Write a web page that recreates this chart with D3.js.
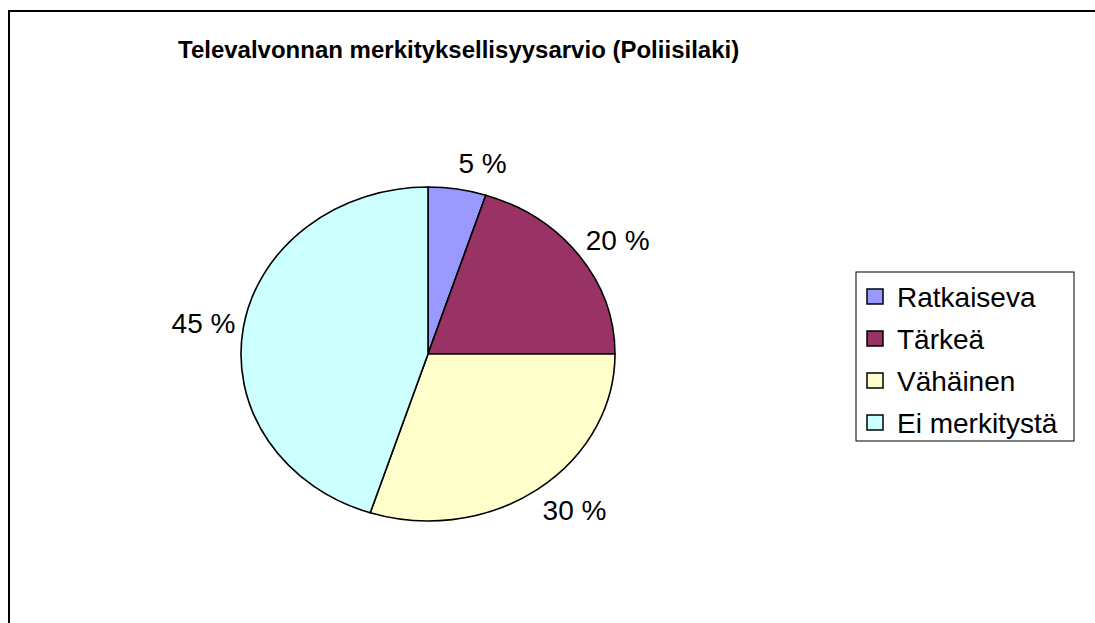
<!DOCTYPE html>
<html>
<meta charset="utf-8">
<title>Televalvonnan merkityksellisyysarvio</title>
<style>
  body { margin: 0; background: #fff; }
  svg { display: block; font-family: "Liberation Sans", Arial, sans-serif; }
  .slice { stroke: #000; stroke-width: 1.6px; vector-effect: non-scaling-stroke; }
  .pct { font-size: 28px; fill: #000; }
  .legend text { font-size: 28px; fill: #000; }
</style>
<body>
<script src="https://d3js.org/d3.v7.min.js"></script>
<script>
var categories = ["Ratkaiseva", "Tärkeä", "Vähäinen", "Ei merkitystä"];
var values = [5, 20, 30, 45];
var labels = ["5 %", "20 %", "30 %", "45 %"];
var colors = ["#9999ff", "#993366", "#ffffcc", "#ccffff"];

var width = 1095, height = 623;
var cx = 428, cy = 354, rx = 187, ry = 167;
var k = ry / rx;

var svg = d3.select("body").append("svg")
    .attr("width", width)
    .attr("height", height);

// chart frame (runs off the right and bottom edge)
svg.append("rect")
    .attr("x", 9).attr("y", 11)
    .attr("width", 1200).attr("height", 700)
    .attr("fill", "#fff")
    .attr("stroke", "#000")
    .attr("stroke-width", 2);

svg.append("text")
    .attr("x", 178).attr("y", 58)
    .style("font-size", "24px")
    .style("font-weight", "bold")
    .text("Televalvonnan merkityksellisyysarvio (Poliisilaki)");

var pie = d3.pie().sort(null).value(function(d) { return d; });
var arcs = pie(values);
var arc = d3.arc().innerRadius(0).outerRadius(rx);

var g = svg.append("g")
    .attr("transform", "translate(" + cx + "," + cy + ") scale(1," + k + ")");

g.selectAll("path")
    .data(arcs)
  .enter().append("path")
    .attr("class", "slice")
    .attr("d", arc)
    .attr("fill", function(d, i) { return colors[i]; });

// percent labels: label box sits just outside the ellipse at the slice's mid angle
var gap = 8;
var lbl = svg.append("g")
    .attr("transform", "translate(" + cx + "," + cy + ")")
  .selectAll("text")
    .data(arcs)
  .enter().append("text")
    .attr("class", "pct")
    .attr("text-anchor", "middle")
    .attr("dominant-baseline", "central")
    .text(function(d, i) { return labels[i]; });

lbl.each(function(d) {
  var a = (d.startAngle + d.endAngle) / 2;
  var b = this.getBBox();
  var s = Math.sin(a), c = Math.cos(a);
  d3.select(this)
    .attr("x", s * (rx + gap) + Math.sign(s) * b.width / 2)
    .attr("y", -c * (ry + gap + 2) - c * 16);
});

// legend
var lg = svg.append("g").attr("class", "legend");
lg.append("rect")
    .attr("x", 856).attr("y", 272)
    .attr("width", 218).attr("height", 169)
    .attr("fill", "#fff")
    .attr("stroke", "#000")
    .attr("stroke-width", 1);

var ly = d3.scalePoint().domain(categories).range([297, 423]);

var item = lg.selectAll("g.item")
    .data(categories)
  .enter().append("g")
    .attr("class", "item")
    .attr("transform", function(d) { return "translate(867," + ly(d) + ")"; });

item.append("rect")
    .attr("x", 0).attr("y", -8)
    .attr("width", 16).attr("height", 15)
    .attr("fill", function(d, i) { return colors[i]; })
    .attr("stroke", "#000")
    .attr("stroke-width", 1.5);

item.append("text")
    .attr("x", 30)
    .attr("y", 10)
    .text(function(d) { return d; });
</script>
</body>
</html>
